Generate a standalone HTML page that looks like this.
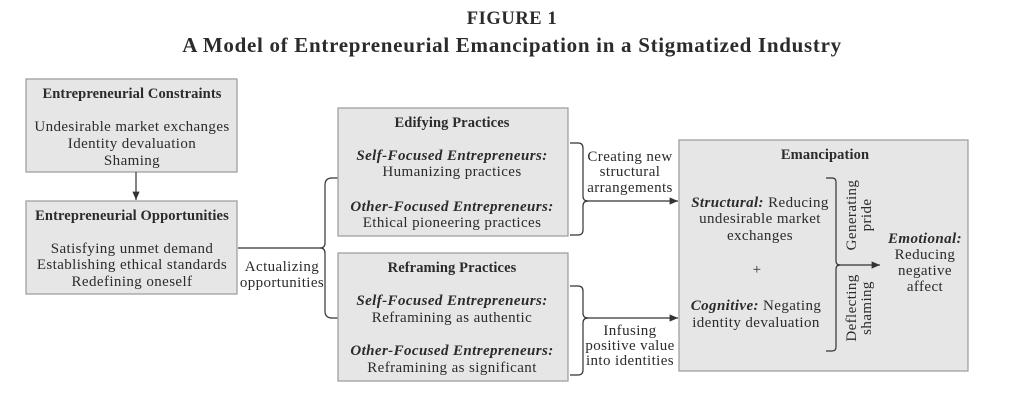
<!DOCTYPE html>
<html><head><meta charset="utf-8"><style>
html,body{margin:0;padding:0;background:#fff;}
svg{display:block;font-family:"Liberation Serif",serif;}
text{fill:#2b2b2b;font-size:15px;letter-spacing:0.4px;}
.b{font-weight:bold;}
.h{font-weight:bold;font-size:14.5px;letter-spacing:0.1px;}
.bi{font-weight:bold;font-style:italic;}
.box{fill:#e6e6e7;stroke:#a0a0a0;stroke-width:1.3;}
.ln{fill:none;stroke:#333;stroke-width:1.2;}
</style></head><body>
<svg width="1025" height="403" viewBox="0 0 1025 403">
<defs><marker id="ar" markerWidth="8" markerHeight="8" refX="7" refY="4" orient="auto"><path d="M0,1 L7,4 L0,7 Z" fill="#333"/></marker></defs>
<text x="512" y="24" text-anchor="middle" class="b" style="font-size:18.5px;letter-spacing:0.6px">FIGURE 1</text>
<text x="512" y="52" text-anchor="middle" class="b" style="font-size:21px;letter-spacing:0.7px">A Model of Entrepreneurial Emancipation in a Stigmatized Industry</text>

<g>
<rect class="box" x="26" y="79" width="211" height="93"/>
<text x="132" y="98" text-anchor="middle" class="h">Entrepreneurial Constraints</text>
<text x="132" y="131" text-anchor="middle">Undesirable market exchanges</text>
<text x="132" y="148" text-anchor="middle">Identity devaluation</text>
<text x="132" y="165" text-anchor="middle">Shaming</text>
</g>
<line class="ln" x1="136" y1="172" x2="136" y2="200" marker-end="url(#ar)"/>
<g>
<rect class="box" x="26" y="201" width="211" height="93"/>
<text x="132" y="220" text-anchor="middle" class="h">Entrepreneurial Opportunities</text>
<text x="132" y="253" text-anchor="middle">Satisfying unmet demand</text>
<text x="132" y="269" text-anchor="middle">Establishing ethical standards</text>
<text x="132" y="286" text-anchor="middle">Redefining oneself</text>
</g>
<path class="ln" d="M238,248 L320,248 M338,178 L332,178 Q325,178 325,185 L325,243 Q325,248 320,248 Q325,248 325,253 L325,311 Q325,318 332,318 L338,318"/>
<text x="282" y="271" text-anchor="middle">Actualizing</text>
<text x="282" y="287" text-anchor="middle">opportunities</text>

<g>
<rect class="box" x="338" y="108" width="230" height="128"/>
<text x="452" y="127" text-anchor="middle" class="h">Edifying Practices</text>
<text x="452" y="160" text-anchor="middle" class="bi">Self-Focused Entrepreneurs:</text>
<text x="452" y="176" text-anchor="middle">Humanizing practices</text>
<text x="452" y="211" text-anchor="middle" class="bi">Other-Focused Entrepreneurs:</text>
<text x="452" y="227" text-anchor="middle">Ethical pioneering practices</text>
</g>
<g>
<rect class="box" x="338" y="253" width="230" height="128"/>
<text x="452" y="272" text-anchor="middle" class="h">Reframing Practices</text>
<text x="452" y="305" text-anchor="middle" class="bi">Self-Focused Entrepreneurs:</text>
<text x="452" y="322" text-anchor="middle">Reframining as authentic</text>
<text x="452" y="355" text-anchor="middle" class="bi">Other-Focused Entrepreneurs:</text>
<text x="452" y="372" text-anchor="middle">Reframining as significant</text>
</g>

<path class="ln" d="M570,143 L578,143 Q583,143 583,148 L583,196 Q583,201 588,201 Q583,201 583,206 L583,230 Q583,235 578,235 L570,235"/>
<line class="ln" x1="585" y1="201" x2="678" y2="201" marker-end="url(#ar)"/>
<text x="630" y="161" text-anchor="middle">Creating new</text>
<text x="630" y="176" text-anchor="middle">structural</text>
<text x="630" y="192" text-anchor="middle">arrangements</text>
<path class="ln" d="M570,286 L578,286 Q583,286 583,291 L583,313 Q583,318 588,318 Q583,318 583,323 L583,370 Q583,375 578,375 L570,375"/>
<line class="ln" x1="585" y1="318" x2="678" y2="318" marker-end="url(#ar)"/>
<text x="630" y="335" text-anchor="middle">Infusing</text>
<text x="630" y="350" text-anchor="middle">positive value</text>
<text x="630" y="365" text-anchor="middle">into identities</text>

<g>
<rect class="box" x="679" y="140" width="289" height="231"/>
<text x="825" y="159" text-anchor="middle" class="h">Emancipation</text>
<text x="760" y="207" text-anchor="middle"><tspan class="bi">Structural:</tspan> Reducing</text>
<text x="760" y="223" text-anchor="middle">undesirable market</text>
<text x="760" y="240" text-anchor="middle">exchanges</text>
<text x="757" y="274" text-anchor="middle">+</text>
<text x="756" y="310" text-anchor="middle"><tspan class="bi">Cognitive:</tspan> Negating</text>
<text x="756" y="327" text-anchor="middle">identity devaluation</text>
<path class="ln" d="M826,178 L832,178 Q836,178 836,182 L836,261 Q836,265 840,265 Q836,265 836,269 L836,347 Q836,351 832,351 L826,351"/>
<line class="ln" x1="838" y1="265" x2="880" y2="265" marker-end="url(#ar)"/>
<text transform="translate(856,215) rotate(-90)" text-anchor="middle">Generating</text>
<text transform="translate(871,215) rotate(-90)" text-anchor="middle">pride</text>
<text transform="translate(856,308) rotate(-90)" text-anchor="middle">Deflecting</text>
<text transform="translate(871,308) rotate(-90)" text-anchor="middle">shaming</text>
<text x="925" y="243" text-anchor="middle" class="bi">Emotional:</text>
<text x="925" y="259" text-anchor="middle">Reducing</text>
<text x="925" y="275" text-anchor="middle">negative</text>
<text x="925" y="291" text-anchor="middle">affect</text>
</g>
</svg>
</body></html>
